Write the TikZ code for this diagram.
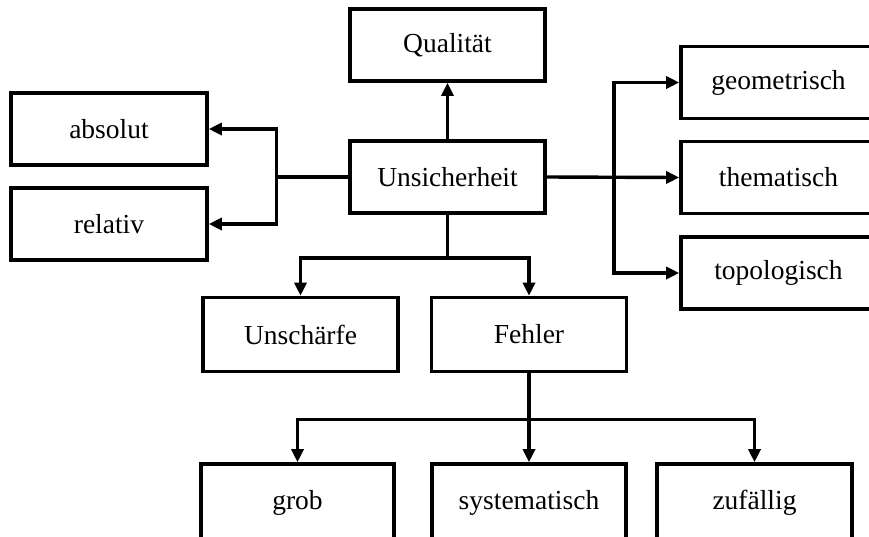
\documentclass[tikz,border=0pt]{standalone}
\usepackage{fontspec}
\setmainfont{Liberation Serif}
\usetikzlibrary{arrows.meta}
\begin{document}
\begin{tikzpicture}[x=1pt,y=-1pt,
  box/.style={draw, line width=3.6pt, minimum width=195pt, minimum height=72pt,
    inner sep=0pt, font=\fontsize{27.5}{33}\selectfont},
  conn/.style={line width=3.4pt},
  arr/.style={conn, -{Triangle[length=13pt,width=12pt]}}]
\useasboundingbox (0,0) rectangle (869,536);
\clip (0,0) rectangle (869,536);

% boxes
\node[box] (qual)  at (447.5,45)  {Qualität};
\node[box] (uns)   at (447.5,177) {Unsicherheit};
\node[box, minimum width=196pt] (abs) at (109,129) {absolut};
\node[box, minimum width=196pt] (rel) at (109,224) {relativ};
\node[box] (geo)   at (778.5,82.5) {geometrisch};
\node[box] (them)  at (778.5,177.5) {thematisch};
\node[box] (topo)  at (778.5,273) {topologisch};
\node[box, minimum height=74pt] (unsch) at (300.5,334.5) {Unschärfe};
\node[box, minimum height=74pt] (fehl)  at (529,334.5) {Fehler};
\node[box, minimum width=193pt, minimum height=78pt] (grob) at (297.5,503) {grob};
\node[box, minimum width=194pt, minimum height=78pt] (syst) at (529,503) {systematisch};
\node[box, minimum height=78pt] (zuf)  at (754.5,503) {zufällig};

% junction points
\coordinate (lj) at ([xshift=-72pt]uns.west);
\coordinate (rj) at ([xshift=67pt]uns.east);
\coordinate (dj) at ([yshift=-43pt]uns.south);
\coordinate (fj) at ([yshift=-46pt]fehl.south);

% connectors
\draw[arr] (uns.north) -- (qual.south);
\draw[conn] (uns.west) -- (lj);
\draw[arr] (lj) |- (abs.east);
\draw[arr] (lj) |- (rel.east);
\draw[arr] (uns.east) -- (them.west);
\draw[arr] (rj) |- (geo.west);
\draw[arr] (rj) |- (topo.west);
\draw[conn] (uns.south) -- (dj);
\draw[arr] (dj) -| (unsch.north);
\draw[arr] (dj) -| (fehl.north);
\draw[arr, line width=4pt] (fehl.south) -- (syst.north);
\draw[arr] (fj) -| (grob.north);
\draw[arr] (fj) -| (zuf.north);
\end{tikzpicture}
\end{document}
